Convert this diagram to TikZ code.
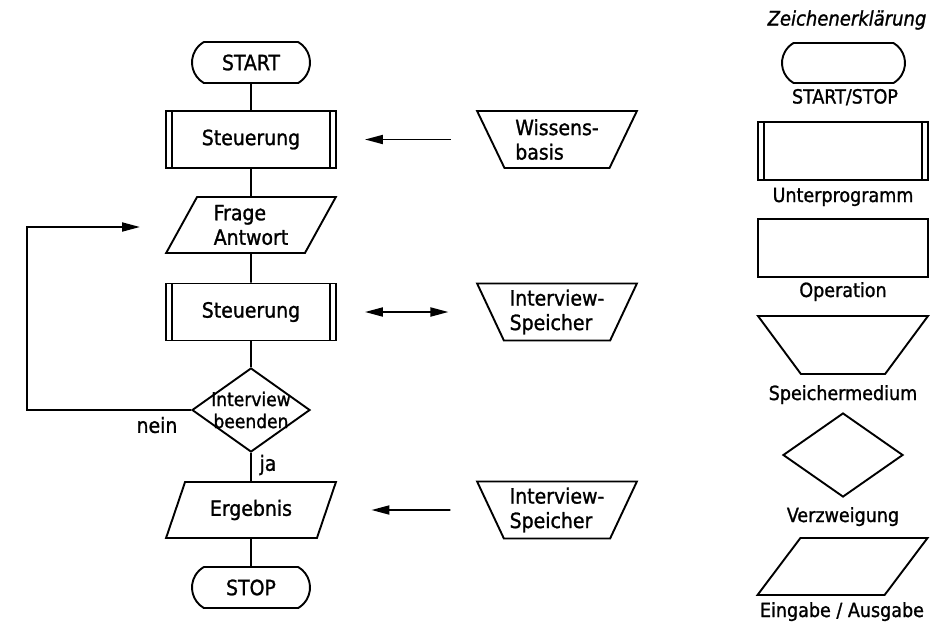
\documentclass[tikz,border=0pt]{standalone}
\usepackage{fontspec}
\setmainfont{DejaVu Sans Condensed}[FakeBold=1.2]
\usetikzlibrary{shapes.geometric,shapes.misc,arrows.meta}
\begin{document}
\begin{tikzpicture}[x=1pt,y=-1pt,line width=1.9pt,
  every node/.style={font=\fontsize{21}{24.5}\selectfont, align=center, inner sep=2pt},
  term/.style={draw, rounded rectangle, rounded rectangle arc length=120, minimum width=122pt, minimum height=41pt},
  op/.style={draw, rectangle, minimum width=170pt, minimum height=57pt},
  subprog/.style={op, path picture={
    \draw ([xshift=6pt]path picture bounding box.north west) -- ([xshift=6pt]path picture bounding box.south west)
          ([xshift=-6pt]path picture bounding box.north east) -- ([xshift=-6pt]path picture bounding box.south east);}},
  store/.style={draw, trapezium, trapezium left angle=63, trapezium right angle=63, shape border rotate=180,
    trapezium stretches=true, minimum width=160pt, minimum height=57pt, align=left},
  io/.style={draw, trapezium, trapezium left angle=63, trapezium right angle=117,
    trapezium stretches=true, minimum width=170pt, minimum height=56pt, align=left},
  decision/.style={draw, diamond, aspect=1.4, minimum width=118pt, minimum height=84pt, inner sep=0pt},
  lbl/.style={anchor=base, font=\fontsize{19.5}{24}\selectfont},
  arr/.style={-{Triangle[length=18pt,width=9pt]}},
  arrbi/.style={{Triangle[length=18pt,width=9pt]}-{Triangle[length=18pt,width=9pt]}}]
\useasboundingbox (0,0) rectangle (951,622);
% main flow
\node[term] (start) at (251,62.5){START};
\node[subprog] (steu1) at (251,139.5){Steuerung};
\node[io] (frage) at (251,225){Frage\\Antwort};
\node[subprog] (steu2) at (251,312){Steuerung};
\node[decision] (ende) at (251,410){};
\node[font=\fontsize{19}{22}\selectfont] (endetext) at (ende){Interview\\beenden};
\node[io] (erg) at (251,510){Ergebnis};
\node[term] (stop) at (251,587.5){STOP};
\draw[](start) -- (steu1);
\draw[](steu1) -- (frage);
\draw[](frage) -- (steu2);
\draw[](steu2) -- (ende);
\draw[](ende) -- (erg);
\draw[](erg) -- (stop);
\node (ja) at (268,465){ja};
\node (nein) at (157,425){nein};
\coordinate (loopb) at (27,227);
\coordinate (loopend) at (140,227);
\draw[arr](ende.west) -| (loopb) -- (loopend);
% memories
\node[store] (wissen) at (557,139.5){Wissens-\\basis};
\node[store] (ispeich1) at (557,312){Interview-\\Speicher};
\node[store] (ispeich2) at (557,510){Interview-\\Speicher};
\draw[arr, shorten <=39pt, shorten >=28pt](wissen) -- (steu1);
\draw[arrbi, shorten <=28pt, shorten >=41pt](steu2) -- (ispeich1);
\draw[arr, shorten <=39pt, shorten >=44pt](ispeich2) -- (erg);
% legend
\node[font=\fontsize{20}{24.5}\itshape] (legtitle) at (847,20){Zeichenerklärung};
\node[term, minimum width=127pt, minimum height=40pt] (legterm) at (843.5,63){};
\node[lbl] (legtermtxt) at (845,103.5){START/STOP};
\node[subprog, minimum height=58pt] (legsub) at (843,151){};
\node[lbl] (legsubtxt) at (843,202){Unterprogramm};
\node[op, minimum height=58pt] (legop) at (843,248){};
\node[lbl] (legoptxt) at (843,297){Operation};
\node[store, minimum width=170pt, minimum height=58pt] (legstore) at (843,345){};
\node[lbl] (legstoretxt) at (843,400){Speichermedium};
\node[decision, minimum width=120pt] (legdec) at (843,455){};
\node[lbl] (legdectxt) at (843,522){Verzweigung};
\node[io, minimum height=57pt] (legio) at (842.5,566.5){};
\node[lbl] (legiotxt) at (842,617){Eingabe / Ausgabe};
\end{tikzpicture}
\end{document}
